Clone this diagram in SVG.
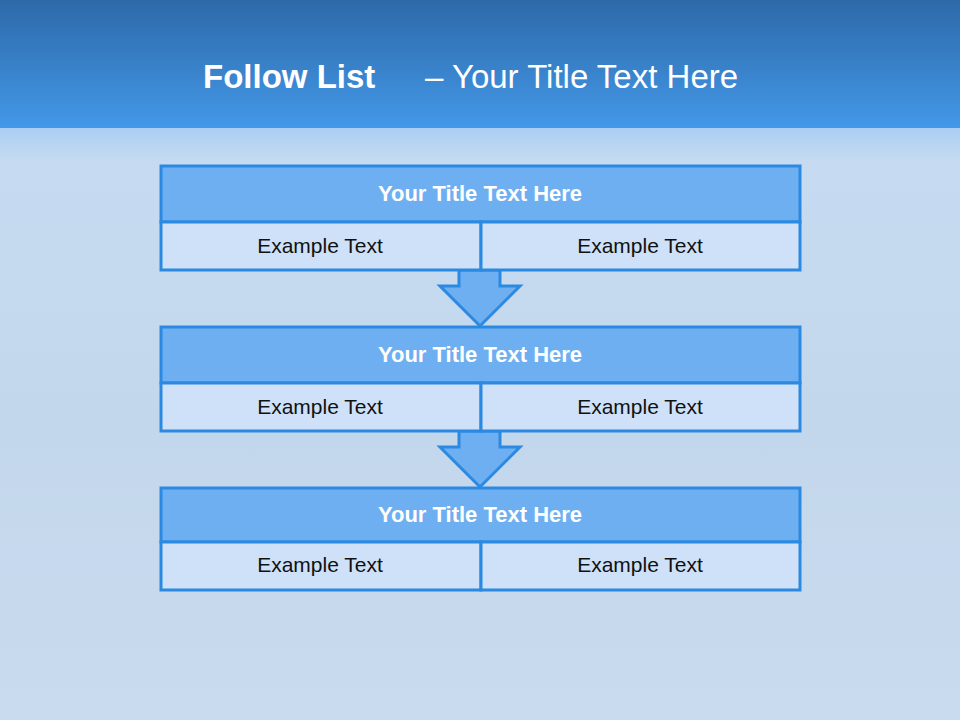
<svg xmlns="http://www.w3.org/2000/svg" width="960" height="720" viewBox="0 0 960 720">
<defs>
<linearGradient id="hdr" x1="0" y1="0" x2="0" y2="1">
<stop offset="0" stop-color="#2d69a9"/>
<stop offset="1" stop-color="#4398e8"/>
</linearGradient>
<linearGradient id="bg" x1="0" y1="0" x2="0" y2="1">
<stop offset="0" stop-color="#a9cdf3"/>
<stop offset="0.06" stop-color="#c6dbf1"/>
<stop offset="0.5" stop-color="#c3d7ec"/>
<stop offset="1" stop-color="#c9dbee"/>
</linearGradient>
<style>
.ttl{fill:#6eaff1;stroke:#2b89e1;stroke-width:3}
.cell{fill:#cee1f8;stroke:#2b89e1;stroke-width:3}
.arr{fill:#6eaff1;stroke:#2b89e1;stroke-width:3;stroke-linejoin:miter}
.tt{font-family:"Liberation Sans",Arial,sans-serif;font-weight:bold;font-size:22px;fill:#ffffff;text-anchor:middle}
.et{font-family:"Liberation Sans",Arial,sans-serif;font-size:21px;fill:#111111;text-anchor:middle}
.h{font-family:"Liberation Sans",Arial,sans-serif;font-size:33px;fill:#ffffff}
</style>
</defs>
<rect x="0" y="126" width="960" height="594" fill="url(#bg)"/>
<rect x="0" y="0" width="960" height="128" fill="url(#hdr)"/>
<text class="h" x="203" y="88" font-weight="bold" font-size="34">Follow List</text>
<text class="h" x="425" y="88">– Your Title Text Here</text>
<g id="connectors">
<path class="arr" d="M459,270 L500,270 L500,286 L520,286 L480,326 L440,286 L459,286 Z"/>
<path class="arr" d="M459,431 L500,431 L500,447 L520,447 L480,487 L440,447 L459,447 Z"/>
</g>
<g id="block1">
<rect class="ttl" x="161" y="166" width="639" height="56"/>
<rect class="cell" x="161" y="222" width="320" height="48"/>
<rect class="cell" x="481" y="222" width="319" height="48"/>
<text class="tt" x="480" y="201">Your Title Text Here</text>
<text class="et" x="320" y="253">Example Text</text>
<text class="et" x="640" y="253">Example Text</text>
</g>
<g id="block2">
<rect class="ttl" x="161" y="327" width="639" height="56"/>
<rect class="cell" x="161" y="383" width="320" height="48"/>
<rect class="cell" x="481" y="383" width="319" height="48"/>
<text class="tt" x="480" y="362">Your Title Text Here</text>
<text class="et" x="320" y="414">Example Text</text>
<text class="et" x="640" y="414">Example Text</text>
</g>
<g id="block3">
<rect class="ttl" x="161" y="488" width="639" height="54"/>
<rect class="cell" x="161" y="542" width="320" height="48"/>
<rect class="cell" x="481" y="542" width="319" height="48"/>
<text class="tt" x="480" y="522">Your Title Text Here</text>
<text class="et" x="320" y="572">Example Text</text>
<text class="et" x="640" y="572">Example Text</text>
</g>
</svg>
